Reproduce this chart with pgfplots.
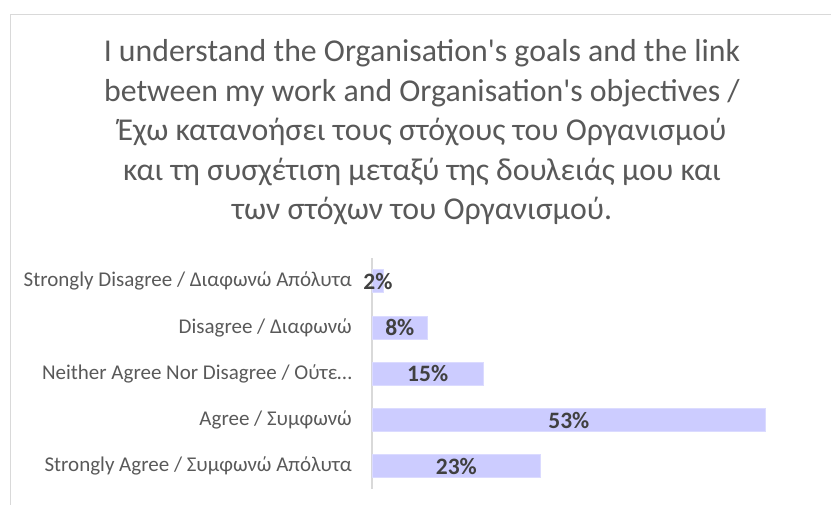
\documentclass[border=0pt]{standalone}
\usepackage{fontspec}
\setmainfont{Carlito}
\usepackage{pgfplots}
\pgfplotsset{compat=1.18}
\usepackage{pgfplotstable}
\definecolor{txt}{HTML}{595959}
\definecolor{lbl}{HTML}{404040}
\definecolor{barc}{HTML}{CCCCFF}
\definecolor{axc}{HTML}{D9D9D9}
\pgfplotstableread{
idx value pct
0 1.6 2
1 7.5 8
2 15.0 15
3 53.0 53
4 22.7 23
}\datatable
\begin{document}
\begin{tikzpicture}
\begin{axis}[
  name=ax,
  at={(0pt,0pt)}, anchor=south west,
  scale only axis, width=445.8pt, height=231.2pt,
  xmin=0, xmax=60, ymin=-0.5, ymax=4.5, y dir=reverse,
  xbar, bar width=23pt,
  axis lines*=left,
  x axis line style={draw=none},
  y axis line style={draw=axc, line width=1.5pt, -},
  xtick=\empty,
  ytick={0,1,2,3,4},
  yticklabels={Strongly Disagree / Διαφωνώ Απόλυτα, Disagree / Διαφωνώ, Neither Agree Nor Disagree / Ούτε…, Agree / Συμφωνώ, Strongly Agree / Συμφωνώ Απόλυτα},
  major tick length=0pt,
  ytick style={draw=none},
  yticklabel style={anchor=east, inner sep=0pt, xshift=-20pt, font=\fontsize{21}{25}\selectfont, text=txt},
  point meta=explicit,
  /pgf/number format/assume math mode=true,
  nodes near coords={\pgfmathprintnumber{\pgfplotspointmeta}\%},
  visualization depends on={rawx \as \rawx},
  every node near coord/.append style={anchor=center, inner sep=0pt, font=\bfseries\fontsize{23.5}{28}\selectfont, text=lbl, shift={(axis direction cs:-\rawx/2,0)}},
  clip=false,
]
\addplot[fill=barc, draw=barc!70!white, line width=0.8pt] table[x=value, y=idx, meta=pct] {\datatable};
\end{axis}
\pgfresetboundingbox
\begin{scope}[shift={(-372pt,-15.6pt)}, x=1pt, y=1pt]
\useasboundingbox (0,0) rectangle (831,505);
\draw[axc, line width=1.2pt] (10.5,0) -- (10.5,490.5) -- (831,490.5);
\begin{scope}[every node/.style={anchor=base, font=\fontsize{31.8}{39}\selectfont, text=txt, inner sep=0pt}]
\node at (422,443) {I understand the Organisation\textquotesingle s goals and the link};
\node at (422,403.5) {between my work and Organisation\textquotesingle s objectives /};
\node at (422,364) {Έχω κατανοήσει τους στόχους του Οργανισμού};
\node at (422,324.5) {και τη συσχέτιση μεταξύ της δουλειάς μου και};
\node at (422,285) {των στόχων του Οργανισμού.};
\end{scope}
\end{scope}
\end{tikzpicture}
\end{document}
